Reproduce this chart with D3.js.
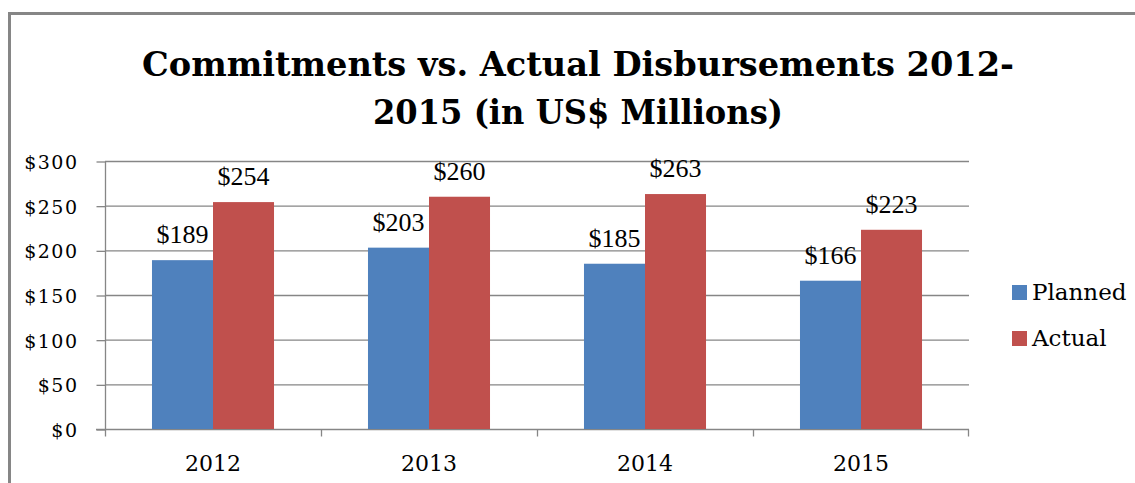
<!DOCTYPE html>
<meta charset="utf-8">
<script src="https://d3js.org/d3.v7.min.js"></script>
<style>
  body { margin: 0; background: #fff; }
  svg { display: block; }
</style>
<div id="chart"></div>
<script>
// data
var years = ["2012", "2013", "2014", "2015"];
var series = ["Planned", "Actual"];
var planned = [189, 203, 185, 166];
var actual = [254, 260, 263, 223];
var yTicks = [0, 50, 100, 150, 200, 250, 300];
var titleLines = ["Commitments vs. Actual Disbursements 2012-", "2015 (in US$ Millions)"];

var colours = {"Planned": "#4f81bd", "Actual": "#c0504d"};
var grey = "#868686";

var W = 1135, H = 483;
var plotLeft = 105, plotRight = 969, plotTop = 161, plotBottom = 429;

var svg = d3.select("#chart").append("svg")
    .attr("width", W)
    .attr("height", H);

// outer frame, runs off the right and bottom edges
svg.append("rect")
    .attr("x", 9.5).attr("y", 13.5)
    .attr("width", 1300).attr("height", 700)
    .attr("fill", "none")
    .attr("stroke", grey)
    .attr("stroke-width", 3);

// title
var titleW = [872, 410];
var titleY = [76, 124];
svg.selectAll(".title")
  .data(titleLines)
  .enter().append("text")
    .attr("class", "title")
    .attr("x", 578)
    .attr("y", function(d, i) { return titleY[i]; })
    .attr("text-anchor", "middle")
    .attr("textLength", function(d, i) { return titleW[i]; })
    .attr("lengthAdjust", "spacingAndGlyphs")
    .style("font-family", "'DejaVu Serif'")
    .style("font-weight", "bold")
    .style("font-size", "34px")
    .text(function(d) { return d; });

// scales
var x0 = d3.scaleBand().domain(years).range([plotLeft, plotRight]).padding(0);
var x1 = d3.scaleBand().domain(series).range([0, x0.bandwidth()]).paddingInner(0).paddingOuter(0.77);
var y = d3.scaleLinear().domain([0, 300]).range([plotBottom, plotTop]);

// gridlines
svg.append("g")
  .selectAll("line")
  .data(yTicks.filter(function(d) { return d > 0; }))
  .enter().append("line")
    .attr("x1", plotLeft).attr("x2", plotRight)
    .attr("y1", function(d) { return y(d) + 0.5; })
    .attr("y2", function(d) { return y(d) + 0.5; })
    .attr("stroke", grey)
    .attr("stroke-width", 1.3);

// y axis
var yAxis = svg.append("g")
    .attr("transform", "translate(" + (plotLeft + 0.5) + ",0.5)")
    .call(d3.axisLeft(y).tickValues(yTicks).tickSize(9).tickPadding(18)
      .tickFormat(function(d) { return "$" + d; }));
yAxis.select(".domain").attr("stroke", grey).attr("stroke-width", 1.3)
    .attr("d", "M0," + plotTop + "V" + (plotBottom + 7));
yAxis.selectAll(".tick line").attr("stroke", grey).attr("stroke-width", 1.3);
yAxis.selectAll(".tick text")
    .attr("dy", "0.36em")
    .style("font-family", "'DejaVu Serif'")
    .style("font-size", "19px")
    .style("letter-spacing", "1.5px")
    .attr("fill", "#000");

// x axis
var xAxis = svg.append("g")
    .attr("transform", "translate(0," + (plotBottom + 0.5) + ")")
    .call(d3.axisBottom(x0).tickSize(0).tickPadding(0));
xAxis.select(".domain").remove();
xAxis.append("line")
    .attr("x1", plotLeft - 9).attr("x2", plotRight)
    .attr("stroke", grey).attr("stroke-width", 1.3);
xAxis.selectAll(".sep")
  .data(years.slice(1).concat(["end"]))
  .enter().append("line")
    .attr("x1", function(d, i) { return i < 3 ? x0(d) + 0.5 : plotRight - 0.5; })
    .attr("x2", function(d, i) { return i < 3 ? x0(d) + 0.5 : plotRight - 0.5; })
    .attr("y1", 0).attr("y2", 7)
    .attr("stroke", grey).attr("stroke-width", 1.3);
xAxis.selectAll(".tick text")
    .attr("y", 41)
    .attr("dy", null)
    .style("font-family", "'DejaVu Serif'")
    .style("font-size", "22px")
    .attr("fill", "#000");

// bars
var rows = years.map(function(yr, i) {
  return {year: yr, values: [{key: "Planned", value: planned[i]}, {key: "Actual", value: actual[i]}]};
});

var groups = svg.append("g").selectAll("g")
  .data(rows)
  .enter().append("g")
    .attr("transform", function(d) { return "translate(" + x0(d.year) + ",0)"; });

groups.selectAll("rect")
  .data(function(d) { return d.values; })
  .enter().append("rect")
    .attr("x", function(d) { return x1(d.key); })
    .attr("width", x1.bandwidth())
    .attr("y", function(d) { return y(d.value); })
    .attr("height", function(d) { return plotBottom - y(d.value); })
    .attr("fill", function(d) { return colours[d.key]; });

groups.selectAll(".lbl")
  .data(function(d) { return d.values; })
  .enter().append("text")
    .attr("class", "lbl")
    .attr("x", function(d) { return x1(d.key) + x1.bandwidth() / 2; })
    .attr("y", function(d) { return y(d.value) - 17; })
    .attr("text-anchor", "middle")
    .style("font-family", "'Liberation Serif'")
    .style("font-size", "26px")
    .text(function(d) { return "$" + d.value; });

// legend
var legend = svg.append("g").selectAll("g")
  .data(series)
  .enter().append("g")
    .attr("transform", function(d, i) { return "translate(1012," + (285 + i * 46) + ")"; });
legend.append("rect")
    .attr("width", 15).attr("height", 15)
    .attr("fill", function(d) { return colours[d]; });
legend.append("text")
    .attr("x", 20).attr("y", 15)
    .style("font-family", "'DejaVu Serif'")
    .style("font-size", "23px")
    .text(function(d) { return d; });
</script>
